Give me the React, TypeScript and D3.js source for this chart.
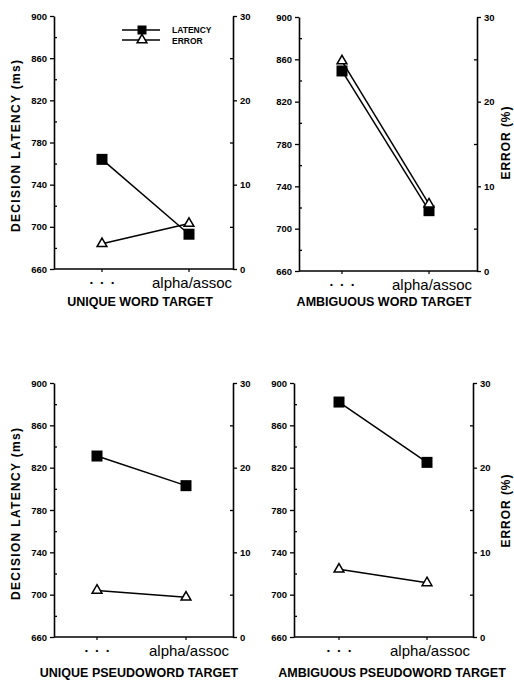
import React, { useEffect, useRef } from 'react';
import * as d3 from 'd3';

// condition labels on the x axis
const categories = ['• • •', 'alpha/assoc'];

// decision latency (ms) and error (%) per panel
const uniqueWordLatency = [764, 693];
const uniqueWordError = [3.0, 5.4];
const ambiguousWordLatency = [849, 717];
const ambiguousWordError = [24.8, 7.9];
const uniquePseudoLatency = [831, 803];
const uniquePseudoError = [5.5, 4.7];
const ambiguousPseudoLatency = [882, 825];
const ambiguousPseudoError = [8.0, 6.4];

const latencyTicks = [660, 700, 740, 780, 820, 860, 900];
const latencyMinor = [680, 720, 760, 800, 840, 880];
const errorTicks = [0, 10, 20, 30];
const errorMinor = [5, 15, 25];

const panelTitles = [
  'UNIQUE WORD TARGET',
  'AMBIGUOUS WORD TARGET',
  'UNIQUE PSEUDOWORD TARGET',
  'AMBIGUOUS PSEUDOWORD TARGET',
];

const FONT = '"Liberation Sans", Arial, Helvetica, sans-serif';

const App = () => {
  const ref = useRef<SVGSVGElement>(null);

  useEffect(() => {
    const svg = d3.select(ref.current);
    svg.selectAll('*').remove();

    const panels = [
      { x0: 54, x1: 233, y0: 16, y1: 269, c0: 102, c1: 189, lat: uniqueWordLatency, err: uniqueWordError, title: panelTitles[0], tx: 140, ty: 306, legend: true },
      { x0: 299, x1: 477, y0: 17, y1: 271, c0: 342, c1: 429, lat: ambiguousWordLatency, err: ambiguousWordError, title: panelTitles[1], tx: 384, ty: 306, legend: false },
      { x0: 54, x1: 233, y0: 383, y1: 637, c0: 97, c1: 186, lat: uniquePseudoLatency, err: uniquePseudoError, title: panelTitles[2], tx: 139, ty: 677, legend: false },
      { x0: 294, x1: 473, y0: 383, y1: 637, c0: 339, c1: 427, lat: ambiguousPseudoLatency, err: ambiguousPseudoError, title: panelTitles[3], tx: 392, ty: 677, legend: false },
    ];

    const tri = d3.symbol().type(d3.symbolTriangle).size(42);

    panels.forEach((p) => {
      const g = svg.append('g');
      const x = d3.scalePoint<string>().domain(categories).range([p.c0, p.c1]);
      const y = d3.scaleLinear().domain([660, 900]).range([p.y1, p.y0]);
      const yErr = d3.scaleLinear().domain([0, 30]).range([p.y1, p.y0]);

      // left axis
      const la = g.append('g').attr('transform', `translate(${p.x0},0)`)
        .call(d3.axisLeft(y).tickValues(latencyTicks).tickSize(4).tickSizeOuter(0).tickPadding(3));
      g.append('g').attr('transform', `translate(${p.x0},0)`)
        .call(d3.axisRight(y).tickValues(latencyMinor).tickSize(3).tickSizeOuter(0).tickFormat(() => ''))
        .select('.domain').remove();

      // right axis
      const ra = g.append('g').attr('transform', `translate(${p.x1},0)`)
        .call(d3.axisRight(yErr).tickValues(errorTicks).tickSize(4).tickSizeOuter(0).tickPadding(3));
      g.append('g').attr('transform', `translate(${p.x1},0)`)
        .call(d3.axisLeft(yErr).tickValues(errorMinor).tickSize(3).tickSizeOuter(0).tickFormat(() => ''))
        .select('.domain').remove();

      [la, ra].forEach((a) => {
        a.selectAll('text').attr('font-family', FONT).attr('font-size', 9.5).attr('font-weight', 'bold').attr('fill', '#000');
      });
      g.selectAll('.domain').attr('stroke-width', 1.6);
      g.selectAll('.tick line').attr('stroke-width', 1.3);

      // bottom axis line
      g.append('line').attr('x1', p.x0).attr('x2', p.x1).attr('y1', p.y1).attr('y2', p.y1)
        .attr('stroke', '#000').attr('stroke-width', 1.6);
      categories.forEach((c) => {
        g.append('line').attr('x1', x(c)!).attr('x2', x(c)!).attr('y1', p.y1).attr('y2', p.y1 + 3)
          .attr('stroke', '#000').attr('stroke-width', 1.2);
      });
      g.append('text').attr('x', x(categories[0])!).attr('y', p.y1 + 16).attr('text-anchor', 'middle')
        .attr('font-family', FONT).attr('font-size', 8).attr('font-weight', 'bold')
        .attr('textLength', 24).attr('lengthAdjust', 'spacing').text(categories[0]);
      g.append('text').attr('x', x(categories[1])! + 3).attr('y', p.y1 + 19).attr('text-anchor', 'middle')
        .attr('font-family', FONT).attr('font-size', 15).text(categories[1]);
      g.append('text').attr('x', p.tx).attr('y', p.ty).attr('text-anchor', 'middle')
        .attr('font-family', FONT).attr('font-size', 12.5).attr('font-weight', 'bold').text(p.title);

      // lines
      const line = d3.line<number>().x((_, i) => x(categories[i])!);
      g.append('path').attr('d', line.y((d) => y(d))(p.lat)).attr('fill', 'none').attr('stroke', '#000').attr('stroke-width', 1.5);
      g.append('path').attr('d', line.y((d) => yErr(d))(p.err)).attr('fill', 'none').attr('stroke', '#000').attr('stroke-width', 1.5);

      p.lat.forEach((d, i) => {
        g.append('rect').attr('x', x(categories[i])! - 5.5).attr('y', y(d) - 5.5).attr('width', 11).attr('height', 11).attr('fill', '#000');
      });
      p.err.forEach((d, i) => {
        g.append('path').attr('d', tri()).attr('transform', `translate(${x(categories[i])},${yErr(d)})`)
          .attr('fill', '#fff').attr('stroke', '#000').attr('stroke-width', 1.5);
      });

      if (p.legend) {
        const lg = g.append('g');
        lg.append('line').attr('x1', 122).attr('x2', 160).attr('y1', 30).attr('y2', 30).attr('stroke', '#000').attr('stroke-width', 1.5);
        lg.append('rect').attr('x', 137.5).attr('y', 25.5).attr('width', 9).attr('height', 9).attr('fill', '#000');
        lg.append('line').attr('x1', 122).attr('x2', 160).attr('y1', 40).attr('y2', 40).attr('stroke', '#000').attr('stroke-width', 1.5);
        lg.append('path').attr('d', tri()).attr('transform', 'translate(142,40)').attr('fill', '#fff').attr('stroke', '#000').attr('stroke-width', 1.5);
        lg.append('text').attr('x', 172).attr('y', 33).attr('font-family', FONT).attr('font-size', 8.5).attr('font-weight', 'bold').text('LATENCY');
        lg.append('text').attr('x', 172).attr('y', 43.5).attr('font-family', FONT).attr('font-size', 8.5).attr('font-weight', 'bold').text('ERROR');
      }
    });

    // axis titles
    [146, 514].forEach((cy) => {
      svg.append('text').attr('transform', `translate(20,${cy}) rotate(-90)`).attr('text-anchor', 'middle')
        .attr('font-family', FONT).attr('font-size', 12).attr('font-weight', 'bold')
        .attr('textLength', 172).attr('lengthAdjust', 'spacing').text('DECISION  LATENCY  (ms)');
    });
    [143, 511].forEach((cy) => {
      svg.append('text').attr('transform', `translate(510,${cy}) rotate(-90)`).attr('text-anchor', 'middle')
        .attr('font-family', FONT).attr('font-size', 12).attr('font-weight', 'bold')
        .attr('textLength', 73).attr('lengthAdjust', 'spacing').text('ERROR (%)');
    });
  }, []);

  return (
    <svg ref={ref} width={514} height={680}
      style={{ position: 'absolute', left: 0, top: 0, background: '#fff' }} />
  );
};

export default App;
